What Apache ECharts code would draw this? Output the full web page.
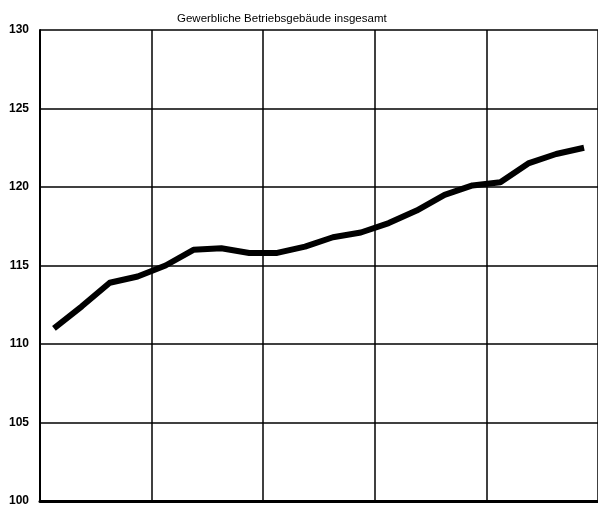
<!DOCTYPE html>
<html>
<head>
<meta charset="utf-8">
<script src="https://cdn.jsdelivr.net/npm/echarts@6/dist/echarts.min.js"></script>
<style>
  html, body { margin: 0; padding: 0; background: #fff; }
  #chart { width: 598px; height: 509px; }
</style>
</head>
<body>
<div id="chart"></div>
<script>
// quarterly index values, 5 years x 4 quarters
const quarters = [
  '1/1', '1/2', '1/3', '1/4',
  '2/1', '2/2', '2/3', '2/4',
  '3/1', '3/2', '3/3', '3/4',
  '4/1', '4/2', '4/3', '4/4',
  '5/1', '5/2', '5/3', '5/4'
]
const indexValues = [
  111.0, 112.4, 113.9, 114.3,
  115.0, 116.0, 116.1, 115.8,
  115.8, 116.2, 116.8, 117.1,
  117.7, 118.5, 119.5, 120.1,
  120.3, 121.5, 122.1, 122.5
]
const chartTitle = 'Gewerbliche Betriebsgebäude insgesamt'

const chart = echarts.init(document.getElementById('chart'))
const option = {
  backgroundColor: '#fff',
  animation: false,
  title: {
    text: chartTitle,
    left: 172,
    top: 8,
    textStyle: {
      fontFamily: 'Liberation Sans',
      fontSize: 11.5,
      fontWeight: 'normal',
      color: '#000'
    }
  },
  grid: {
    left: 40,
    right: -4,
    top: 30,
    bottom: 8
  },
  xAxis: {
    type: 'category',
    data: quarters,
    boundaryGap: true,
    axisLine: { lineStyle: { color: '#000', width: 3 } },
    axisTick: { show: false },
    axisLabel: { show: false },
    splitLine: {
      show: true,
      interval: 3,
      lineStyle: { color: '#000', width: 1.5 }
    }
  },
  yAxis: {
    type: 'value',
    min: 100,
    max: 130,
    interval: 5,
    axisLine: { show: true, lineStyle: { color: '#000', width: 2 } },
    axisTick: { show: false },
    axisLabel: {
      margin: 11,
      color: '#000',
      fontFamily: 'Liberation Sans',
      fontWeight: 'bold',
      fontSize: 12
    },
    splitLine: { lineStyle: { color: '#000', width: 1.5 } }
  },
  series: [
    {
      name: chartTitle,
      type: 'line',
      data: indexValues,
      symbol: 'none',
      lineStyle: { color: '#000', width: 6, join: 'round', cap: 'butt' }
    }
  ]
}
chart.setOption(option)
</script>
</body>
</html>
